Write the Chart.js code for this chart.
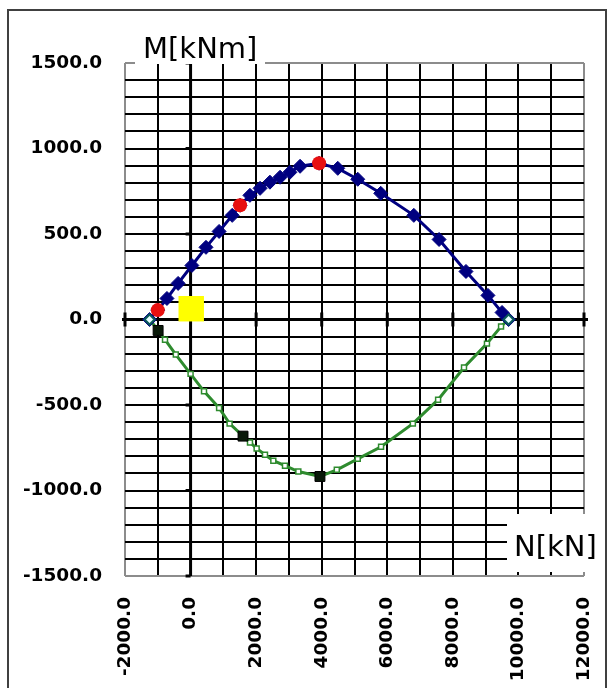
<!DOCTYPE html>
<html>
<head>
<meta charset="utf-8">
<script src="https://cdn.jsdelivr.net/npm/chart.js@4/dist/chart.umd.min.js"></script>
<style>
  html, body { margin: 0; padding: 0; background: #fff; }
  #wrap { width: 608px; height: 688px; }
</style>
</head>
<body>
<div id="wrap"><canvas id="c" width="608" height="688"></canvas></div>
<script>
// ---- data (N in kN, M in kNm) ----
const xTickValues = [-2000, 0, 2000, 4000, 6000, 8000, 10000, 12000];
const yTickValues = [1500, 1000, 500, 0, -500, -1000, -1500];

const upperN = [-1250, -1000, -720, -380, 40, 470, 870, 1270, 1510, 1810, 2120, 2420, 2730, 3030, 3340, 3920, 4490, 5100, 5800, 6810, 7580, 8400, 9070, 9500, 9700];
const upperM = [0, 55, 123, 211, 316, 422, 515, 609, 668, 726, 767, 803, 832, 861, 896, 914, 884, 820, 738, 609, 468, 281, 141, 41, 0];

const lowerN = [-1250, -990, -780, -450, 0, 410, 870, 1190, 1600, 1812, 2015, 2270, 2524, 2880, 3287, 3946, 4460, 5100, 5810, 6780, 7550, 8340, 9040, 9470, 9700];
const lowerM = [0, -64, -118, -205, -318, -420, -517, -609, -682, -719, -754, -791, -826, -855, -889, -918, -879, -815, -744, -609, -469, -281, -141, -41, 0];

const redN = [-1000, 1510, 3920];
const redM = [55, 668, 914];

const blackN = [-990, 1600, 3946];
const blackM = [-64, -682, -918];

const endN = [-1250, 9700];
const endM = [0, 0];

const yellowN = [20];
const yellowM = [63];

const xTitle = 'N[kN]';
const yTitle = 'M[kNm]';

function pts(ns, ms) { return ns.map((n, i) => ({ x: n, y: ms[i] })); }

const xMin = -2000, xMax = 12000, yMin = -1500, yMax = 1500;

const decorations = {
  id: 'decorations',
  beforeDatasetsDraw(chart) {
    const { ctx, scales: { x, y }, chartArea: a } = chart;
    const x0 = x.getPixelForValue(0), y0 = y.getPixelForValue(0);
    ctx.save();
    ctx.strokeStyle = '#000';
    ctx.lineWidth = 3;
    ctx.beginPath();
    ctx.moveTo(a.left - 3, y0); ctx.lineTo(a.right + 4, y0);
    ctx.moveTo(x0, a.top); ctx.lineTo(x0, a.bottom);
    ctx.stroke();
    ctx.beginPath();
    xTickValues.forEach(v => {
      if (v === 0) return;
      const px = x.getPixelForValue(v);
      ctx.moveTo(px, y0 - 7); ctx.lineTo(px, y0 + 7);
    });
    yTickValues.forEach(v => {
      if (v === 0) return;
      const py = y.getPixelForValue(v);
      ctx.moveTo(x0 - 5, py); ctx.lineTo(x0, py);
    });
    ctx.stroke();
    ctx.restore();
  },
  afterDraw(chart) {
    const { ctx } = chart;
    ctx.save();
    // outer frame
    ctx.strokeStyle = '#404040';
    ctx.lineWidth = 2;
    ctx.strokeRect(8, 10, 598, 700);
    // axis titles on white boxes
    ctx.fillStyle = '#fff';
    ctx.fillRect(135, 28, 130, 36);
    ctx.fillRect(507, 514, 96, 58);
    ctx.fillStyle = '#000';
    ctx.font = '29px "DejaVu Sans"';
    ctx.textAlign = 'left';
    ctx.textBaseline = 'alphabetic';
    ctx.fillText(yTitle, 143, 58);
    ctx.fillText(xTitle, 514, 556);
    ctx.restore();
  }
};

const tickFont = { family: '"DejaVu Sans"', size: 18.5, weight: 'bold' };

new Chart(document.getElementById('c'), {
  type: 'scatter',
  data: {
    datasets: [
      { // end markers
        data: pts(endN, endM), showLine: false,
        pointStyle: 'rectRot', pointRadius: 5, pointBorderWidth: 2,
        backgroundColor: '#e8ffff', borderColor: '#0a5a5a'
      },
      { // yellow point
        data: pts(yellowN, yellowM), showLine: false,
        pointStyle: 'rect', pointRadius: 18, pointBorderWidth: 0,
        backgroundColor: '#ffff00', borderColor: '#ffff00'
      },
      { // red points
        data: pts(redN, redM), showLine: false,
        pointStyle: 'circle', pointRadius: 7, pointBorderWidth: 0,
        backgroundColor: '#e81010', borderColor: '#e81010'
      },
      { // black squares
        data: pts(blackN, blackM), showLine: false,
        pointStyle: 'rect', pointRadius: 7, pointBorderWidth: 1,
        backgroundColor: '#0a1a0a', borderColor: '#000'
      },
      { // upper curve
        data: pts(upperN, upperM), showLine: true,
        borderColor: '#000080', borderWidth: 3,
        pointStyle: 'rectRot', pointRadius: 7, pointBorderWidth: 1,
        backgroundColor: '#000080', pointBorderColor: '#000080'
      },
      { // lower curve
        data: pts(lowerN, lowerM), showLine: true,
        borderColor: '#2e8b2e', borderWidth: 3,
        pointStyle: 'rect', pointRadius: 3.5, pointBorderWidth: 1.5,
        backgroundColor: '#ffffff', pointBorderColor: '#2e8b2e'
      }
    ]
  },
  options: {
    responsive: false,
    devicePixelRatio: 1,
    animation: false,
    layout: { padding: { left: 0, right: 24, top: 63, bottom: 0 } },
    plugins: { legend: { display: false }, tooltip: { enabled: false } },
    scales: {
      x: {
        type: 'linear', min: xMin, max: xMax,
        afterFit: s => { s.height = 112; s.paddingLeft = 0; s.paddingRight = 0; },
        border: { display: false },
        grid: {
          drawTicks: false, lineWidth: 2,
          color: c => (c.tick && (c.tick.value === xMin || c.tick.value === xMax)) ? '#8c8c8c' : '#000'
        },
        ticks: {
          stepSize: 1000, autoSkip: false, maxRotation: 90, minRotation: 90,
          padding: 21, color: '#000', font: tickFont,
          callback: v => xTickValues.includes(v) ? v.toFixed(1) : ''
        }
      },
      y: {
        type: 'linear', min: yMin, max: yMax,
        afterFit: s => { s.width = 125; s.paddingTop = 0; s.paddingBottom = 0; },
        border: { display: false },
        grid: {
          drawTicks: false, lineWidth: 2,
          color: c => (c.tick && (c.tick.value === yMin || c.tick.value === yMax)) ? '#8c8c8c' : '#000'
        },
        ticks: {
          stepSize: 100, autoSkip: false,
          padding: 23, color: '#000', font: tickFont,
          callback: v => yTickValues.includes(v) ? v.toFixed(1) : ''
        }
      }
    }
  },
  plugins: [decorations]
});
</script>
</body>
</html>
